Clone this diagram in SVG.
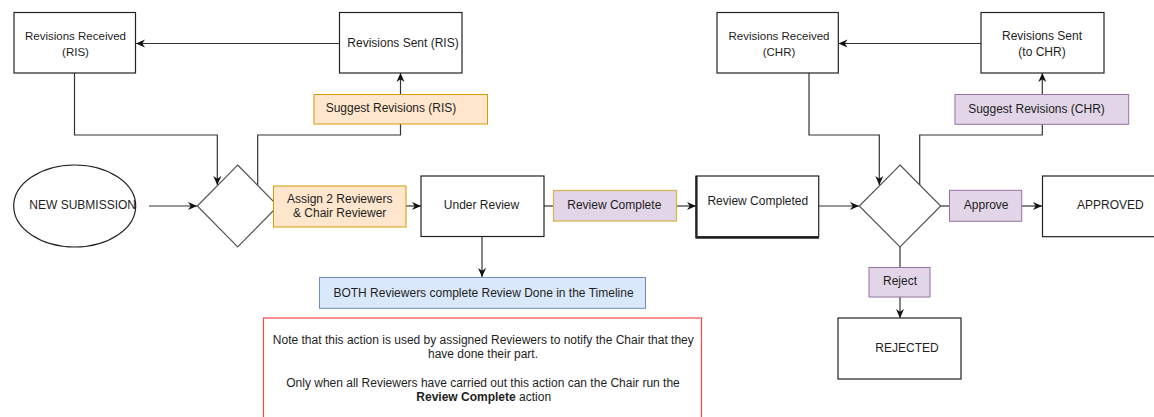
<svg xmlns="http://www.w3.org/2000/svg" width="1154" height="417" viewBox="0 0 1154 417">
<style>
text{font-family:"Liberation Sans",Arial,sans-serif;font-size:12px;fill:#1e1e1e;text-anchor:middle}
.box{fill:#fff;stroke:#222;stroke-width:1.2}
.dia{fill:#fff;stroke:#555;stroke-width:1.2}
.org{fill:#ffe6cc;stroke:#d79b00;stroke-width:1}
.pur{fill:#e1d5e7;stroke:#9673a6;stroke-width:1}
.blu{fill:#dae8fc;stroke:#6c8ebf;stroke-width:1}
.ln{fill:none;stroke:#333;stroke-width:1.2}
.arr{marker-end:url(#ah)}
</style>
<defs>
<marker id="ah" viewBox="0 0 10 10" refX="10" refY="5" markerWidth="9" markerHeight="9" orient="auto" markerUnits="userSpaceOnUse">
<path d="M0,0.5 L10,5 L0,9.5 L3,5 z" fill="#111"/>
</marker>
</defs>
<rect width="1154" height="417" fill="#fff"/>

<g id="connectors">
<path class="ln arr" d="M149,206 H197"/>
<path class="ln arr" d="M406,206 H421"/>
<path class="ln" d="M544,206 H553"/>
<path class="ln arr" d="M676,206 H696"/>
<path class="ln arr" d="M482,237 V277"/>
<path class="ln arr" d="M819,206 H859"/>
<path class="ln" d="M940,206 H949"/>
<path class="ln arr" d="M1022,206 H1042"/>
<path class="ln" d="M900,247 V267"/>
<path class="ln arr" d="M900,297 V318"/>
<path class="ln" d="M257.7,185 V135 H400.5 V124"/>
<path class="ln arr" d="M400.5,94 V73"/>
<path class="ln arr" d="M339,43.5 H136"/>
<path class="ln arr" d="M74.5,73 V135 H217.3 V185"/>
<path class="ln" d="M919.7,185 V135 H1042.3 V124"/>
<path class="ln arr" d="M1042.3,94 V73"/>
<path class="ln arr" d="M981,43.5 H838.5"/>
<path class="ln arr" d="M809,73 V135 H879.3 V185"/>
</g>

<g id="new-submission">
<ellipse cx="74.7" cy="206" rx="61" ry="41" class="box"/>
<text x="82.7" y="209">NEW SUBMISSION</text>
</g>

<g id="decision-1">
<polygon points="237.7,165 278,206 237.7,247 197.3,206" class="dia"/>
</g>

<g id="assign">
<rect x="273.5" y="186" width="132.5" height="41" class="org"/>
<text x="339.7" y="202.6">Assign 2 Reviewers</text>
<text x="339.7" y="216.8">&amp; Chair Reviewer</text>
</g>

<g id="revisions-received-ris">
<rect x="14" y="12.5" width="121.5" height="60.5" class="box"/>
<text x="75.5" y="39.5" style="font-size:11.5px">Revisions Received</text>
<text x="75.5" y="56" style="font-size:11.5px">(RIS)</text>
</g>

<g id="revisions-sent-ris">
<rect x="339.5" y="12.5" width="122.5" height="60.5" class="box"/>
<text x="403" y="46.5">Revisions Sent (RIS)</text>
</g>

<g id="suggest-ris">
<rect x="314" y="94.5" width="173.5" height="29.5" class="org"/>
<text x="391" y="112.3">Suggest Revisions (RIS)</text>
</g>

<g id="under-review">
<rect x="421" y="176" width="123" height="60.5" class="box"/>
<text x="481.5" y="209">Under Review</text>
</g>

<g id="review-complete-action">
<rect x="553.5" y="190.5" width="123" height="30.5" fill="#e1d5e7" stroke="#d6b656" stroke-width="1.3"/>
<text x="614.3" y="208.6">Review Complete</text>
</g>

<g id="both-reviewers">
<rect x="319.5" y="277.5" width="326" height="30.8" class="blu"/>
<text x="483.5" y="296.8">BOTH Reviewers complete Review Done in the Timeline</text>
</g>

<g id="note">
<rect x="263.5" y="318" width="438" height="110" fill="#fff" stroke="#ff4444" stroke-width="1.2"/>
<text x="483.3" y="343.6">Note that this action is used by assigned Reviewers to notify the Chair that they</text>
<text x="483" y="358">have done their part.</text>
<text x="483" y="387">Only when all Reviewers have carried out this action can the Chair run the</text>
<text x="483.7" y="401.3"><tspan font-weight="bold">Review Complete</tspan> action</text>
</g>

<g id="review-completed">
<rect x="696" y="176" width="122.7" height="60.7" class="box"/>
<path d="M696.5,176 V237.6 H819" fill="none" stroke="#222" stroke-width="2.2"/>
<text x="757.8" y="204.6">Review Completed</text>
</g>

<g id="decision-2">
<polygon points="900,165 940.7,206 900,247 859.3,206" class="dia"/>
</g>

<g id="approve">
<rect x="949.5" y="190.3" width="72.2" height="31" class="pur"/>
<text x="986.2" y="208.6">Approve</text>
</g>

<g id="approved">
<rect x="1042.5" y="176" width="122" height="60.7" class="box"/>
<text x="1110.3" y="209.4">APPROVED</text>
</g>

<g id="reject">
<rect x="869" y="267.5" width="61" height="29.5" class="pur"/>
<text x="900" y="284.6">Reject</text>
</g>

<g id="rejected">
<rect x="838" y="318" width="123" height="61" class="box"/>
<text x="907" y="352">REJECTED</text>
</g>

<g id="revisions-received-chr">
<rect x="717" y="12.5" width="121.3" height="60.5" class="box"/>
<text x="779" y="39.5" style="font-size:11.5px">Revisions Received</text>
<text x="779" y="56" style="font-size:11.5px">(CHR)</text>
</g>

<g id="revisions-sent-chr">
<rect x="981" y="12.5" width="123" height="60.5" class="box"/>
<text x="1042" y="39.5">Revisions Sent</text>
<text x="1042" y="56">(to CHR)</text>
</g>

<g id="suggest-chr">
<rect x="955" y="94.5" width="173.7" height="29.8" class="pur"/>
<text x="1036.5" y="112.6">Suggest Revisions (CHR)</text>
</g>
</svg>
